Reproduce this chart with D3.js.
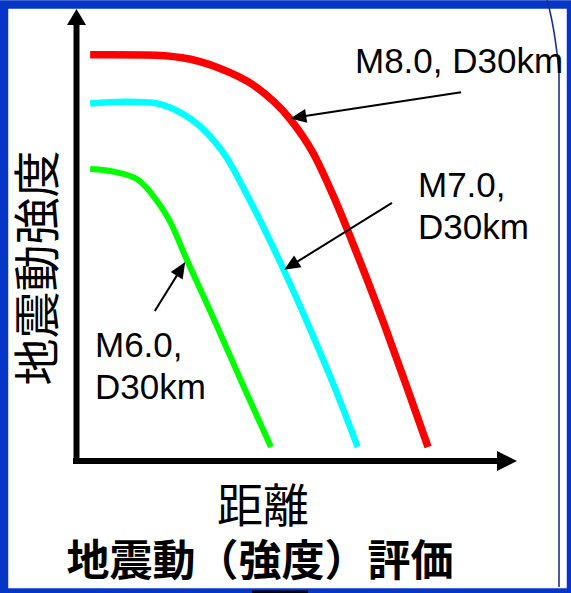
<!DOCTYPE html>
<html>
<head>
<meta charset="utf-8">
<script src="https://cdn.jsdelivr.net/npm/d3@7"></script>
<style>
  html, body { margin: 0; padding: 0; background: #fff; }
  svg { display: block; }
  .lbl { font-family: 'Liberation Sans', Arial, sans-serif; font-size: 35px; fill: #000; }
  .cjk { font-family: 'Noto Sans CJK JP', sans-serif; fill: #000; }
</style>
</head>
<body>
<div id="chart"></div>
<script>
// series: distance (x) vs ground-motion intensity (y), relative units 0..100
const seriesNames = ['M8.0, D30km', 'M7.0, D30km', 'M6.0, D30km'];
const seriesColors = ['#ff0000', '#00ffff', '#00ff00'];

const distM8 = [3.1, 15.8, 24.0, 32.2, 40.6, 48.5, 53.8, 58.8, 64.5, 69.9, 75.0, 79.9];
const intenM8 = [89.9, 89.8, 89.2, 87.0, 82.9, 75.7, 68.1, 57.7, 44.0, 30.3, 16.6, 3.1];

const distM7 = [3.1, 11.0, 16.7, 22.4, 29.0, 34.0, 39.0, 42.8, 46.9, 53.0, 58.7, 63.9];
const intenM7 = [79.1, 79.5, 79.3, 77.7, 73.2, 67.3, 58.4, 51.1, 42.7, 29.4, 16.2, 3.1];

const distM6 = [3.1, 9.0, 14.0, 17.8, 21.3, 24.9, 31.3, 37.6, 44.2];
const intenM6 = [64.6, 63.9, 62.2, 58.2, 52.9, 44.9, 31.2, 17.3, 3.1];

// annotation arrows: [tailDist, tailInten, tipDist, tipInten]
const noteM8 = [87.4, 81.6, 48.6, 75.8];
const noteM7 = [71.7, 57.1, 47.2, 42.3];
const noteM6 = [17.8, 33.2, 24.7, 44.0];

const yTitle = '地震動強度';
const xTitle = '距離';
const chartTitle = '地震動（強度）評価';

const W = 571, H = 593;

const svg = d3.select('#chart').append('svg')
  .attr('width', W).attr('height', H);

const x = d3.scaleLinear().domain([0, 100]).range([76.5, 516.5]);
const y = d3.scaleLinear().domain([0, 100]).range([461, 9]);

// frame
svg.append('rect')
  .attr('x', 4).attr('y', 4.5)
  .attr('width', 567).attr('height', 588)
  .attr('fill', 'none')
  .attr('stroke', '#0636c8')
  .attr('stroke-width', 8.5);

svg.append('path')
  .attr('d', 'M547,0 Q555,28 559,72 L559,587')
  .attr('fill', 'none')
  .attr('stroke', '#1c2f94')
  .attr('stroke-width', 1.6);

svg.append('rect')
  .attr('x', 252).attr('y', 590.5)
  .attr('width', 56).attr('height', 3)
  .attr('fill', '#000');

// filled arrow: line from (x1,y1) to (x2,y2) with a triangle head at the end
function arrow(g, x1, y1, x2, y2, width, headLen, headHalf) {
  const dx = x2 - x1, dy = y2 - y1;
  const len = Math.sqrt(dx * dx + dy * dy);
  const ux = dx / len, uy = dy / len;
  const bx = x2 - ux * headLen, by = y2 - uy * headLen;
  g.append('line')
    .attr('x1', x1).attr('y1', y1)
    .attr('x2', bx + ux).attr('y2', by + uy)
    .attr('stroke', '#000')
    .attr('stroke-width', width);
  g.append('path')
    .attr('d', `M${x2},${y2}L${bx - uy * headHalf},${by + ux * headHalf}L${bx + uy * headHalf},${by - ux * headHalf}Z`)
    .attr('fill', '#000');
}

// axes
const axes = svg.append('g').attr('class', 'axes');
arrow(axes, x(0), y(0) + 3, x(0), y.range()[1], 6, 16, 9.5);
arrow(axes, x(0) - 3.5, y(0), x.range()[1] + 0.5, y(0), 6, 20, 10);

// curves
const line = d3.line()
  .x((d) => x(d[0]))
  .y((d) => y(d[1]))
  .curve(d3.curveMonotoneX);

const series = [
  { d: d3.zip(distM8, intenM8), w: 7.5 },
  { d: d3.zip(distM7, intenM7), w: 6.5 },
  { d: d3.zip(distM6, intenM6), w: 6 }
];

series.forEach((s, i) => {
  svg.append('path')
    .datum(s.d)
    .attr('fill', 'none')
    .attr('stroke', seriesColors[i])
    .attr('stroke-width', s.w)
    .attr('d', line);
});

// annotations
const notes = svg.append('g').attr('class', 'notes');
[noteM8, noteM7, noteM6].forEach((n) => {
  arrow(notes, x(n[0]), y(n[1]), x(n[2]), y(n[3]), 2, 16, 7);
});

svg.append('text').attr('class', 'lbl')
  .attr('x', 355).attr('y', 73)
  .text(seriesNames[0]);

const splitName = (s) => s.split(' ');

const t7 = svg.append('text').attr('class', 'lbl').attr('x', 418).attr('y', 197);
splitName(seriesNames[1]).forEach((p, i) => {
  t7.append('tspan').attr('x', 418).attr('dy', i ? 42 : 0).text(p);
});

const t6 = svg.append('text').attr('class', 'lbl').attr('x', 95).attr('y', 357);
splitName(seriesNames[2]).forEach((p, i) => {
  t6.append('tspan').attr('x', 95).attr('dy', i ? 42 : 0).text(p);
});

// axis titles
svg.append('text').attr('class', 'cjk')
  .attr('transform', 'translate(33,268) rotate(-90)')
  .attr('text-anchor', 'middle')
  .attr('dominant-baseline', 'central')
  .style('font-size', '47px')
  .text(yTitle);

svg.append('text').attr('class', 'cjk')
  .attr('x', 263).attr('y', 502)
  .attr('text-anchor', 'middle')
  .attr('dominant-baseline', 'central')
  .style('font-size', '46px')
  .text(xTitle);

svg.append('text').attr('class', 'cjk')
  .attr('x', 260).attr('y', 557)
  .attr('text-anchor', 'middle')
  .attr('dominant-baseline', 'central')
  .style('font-size', '43px')
  .style('font-weight', 700)
  .text(chartTitle);
</script>
</body>
</html>
